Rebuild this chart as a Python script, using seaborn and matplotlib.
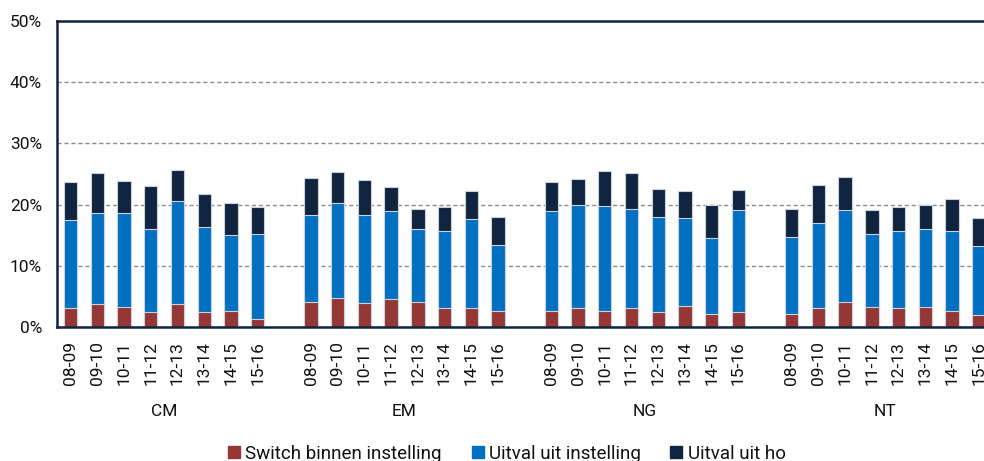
import numpy as np
import pandas as pd
import matplotlib
matplotlib.use("Agg")
import matplotlib.pyplot as plt
from matplotlib.lines import Line2D
import seaborn as sns

# Study programmes and academic years
groups = ["CM", "EM", "NG", "NT"]
years = ["08-09", "09-10", "10-11", "11-12", "12-13", "13-14", "14-15", "15-16"]

# Percentages per programme, one value per academic year
switch_binnen = {
    "CM": [3.1, 3.75, 3.3, 2.45, 3.75, 2.45, 2.65, 1.35],
    "EM": [4.2, 4.85, 3.95, 4.6, 4.2, 3.1, 3.1, 2.65],
    "NG": [2.65, 3.1, 2.65, 3.1, 2.45, 3.5, 2.2, 2.45],
    "NT": [2.2, 3.1, 4.2, 3.3, 3.1, 3.3, 2.65, 2.0],
}
uitval_instelling = {
    "CM": [14.35, 14.85, 15.3, 13.55, 16.8, 13.85, 12.4, 13.95],
    "EM": [14.1, 15.35, 14.35, 14.3, 11.9, 12.55, 14.5, 10.85],
    "NG": [16.25, 16.9, 17.15, 16.25, 15.6, 14.4, 12.4, 16.7],
    "NT": [12.6, 13.85, 14.95, 12.0, 12.55, 12.8, 13.0, 11.3],
}
uitval_ho = {
    "CM": [6.25, 6.6, 5.3, 7.1, 5.1, 5.5, 5.25, 4.3],
    "EM": [6.05, 5.2, 5.8, 3.95, 3.25, 3.95, 4.6, 4.55],
    "NG": [4.8, 4.15, 5.65, 5.85, 4.55, 4.3, 5.4, 3.25],
    "NT": [4.55, 6.3, 5.45, 3.85, 3.95, 3.9, 5.25, 4.55],
}

series_names = ["Switch binnen instelling", "Uitval uit instelling", "Uitval uit ho"]
colors = ["#953735", "#0070C0", "#10243F"]
edge = "#c9d2de"
navy = "#10243F"
text_color = "#111111"

# Long table: one row per programme/year, with stacked tops
rows = []
for g in groups:
    for i, y in enumerate(years):
        a = switch_binnen[g][i]
        b = uitval_instelling[g][i]
        c = uitval_ho[g][i]
        rows.append({"slot": f"{g} {y}", "top1": a, "top2": a + b, "top3": a + b + c})
df = pd.DataFrame(rows)

# Category order with an empty slot between programmes
order = []
for k, g in enumerate(groups):
    order += [f"{g} {y}" for y in years]
    if k < len(groups) - 1:
        order.append(f"_gap{k}")

sns.set_theme(style="white")
plt.rcParams["font.family"] = ["Roboto", "DejaVu Sans"]

fig = plt.figure(figsize=(9.84, 4.61), dpi=100)
ax = fig.add_axes([57.3 / 984, 133.7 / 461, 934.7 / 984, 306.5 / 461])

# Stack by drawing the cumulative totals from tallest to shortest
for col, colr in zip(["top3", "top2", "top1"], colors[::-1]):
    sns.barplot(data=df, x="slot", y=col, order=order, color=colr,
                width=0.5, errorbar=None, saturation=1,
                edgecolor=edge, linewidth=0.8, ax=ax, zorder=3)

ax.set_xlim(-0.5, len(order) - 0.5)
ax.set_ylim(0, 50)
ax.set_yticks(np.arange(0, 51, 10))
ax.set_yticklabels([f"{v}%" for v in range(0, 51, 10)])

pos = [order.index(s) for s in df["slot"]]
ax.set_xticks(pos)
ax.set_xticklabels([s.split(" ")[1] for s in df["slot"]], rotation=90)
ax.set_xlabel("")
ax.set_ylabel("")

ax.tick_params(axis="y", length=0, pad=11, labelsize=12.5, labelcolor=text_color)
ax.tick_params(axis="x", length=0, pad=10, labelsize=12.5, labelcolor=text_color)

ax.yaxis.grid(True, linestyle=(0, (3, 2)), color="#8c8c8c", linewidth=1.0, zorder=0)
ax.xaxis.grid(False)
ax.set_axisbelow(True)

for side in ["left", "top", "bottom", "right"]:
    ax.spines[side].set_visible(True)
    ax.spines[side].set_color(navy)
    ax.spines[side].set_linewidth(1.8)
    ax.spines[side].set_zorder(5)

# Programme labels under each block of years
for k, g in enumerate(groups):
    center = k * (len(years) + 1) + (len(years) - 1) / 2
    x_fig = fig.transFigure.inverted().transform(ax.transData.transform((center, 0)))[0]
    fig.text(x_fig, 1 - 411 / 461, g, fontsize=12.5, color=text_color,
             ha="center", va="center")

handles = [Line2D([0], [0], marker="s", linestyle="none", markersize=8,
                  markerfacecolor=c, markeredgecolor=c) for c in colors]
fig.legend(handles, series_names, loc="center", bbox_to_anchor=(507 / 984, 7 / 461),
           ncol=3, frameon=False, fontsize=13.5, handlelength=0.6,
           handletextpad=0.3, columnspacing=1.6, labelcolor=text_color)

fig.savefig("out.png", dpi=100)
